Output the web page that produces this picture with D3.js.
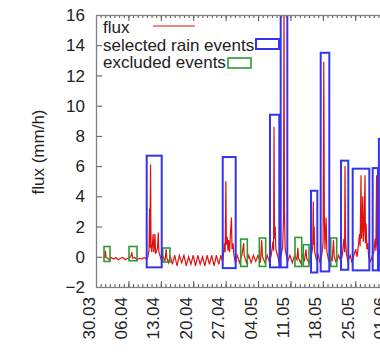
<!DOCTYPE html>
<html>
<head>
<meta charset="utf-8">
<script src="https://cdn.jsdelivr.net/npm/d3@7"></script>
<style>
  body { margin: 0; background: #fff; }
  text { font-family: "Liberation Sans", Arial, sans-serif; font-size: 17px; fill: #222; }
</style>
</head>
<body>
<svg id="chart" width="380" height="352"></svg>
<script>
// days counted from 30.03
var startDay = Date.UTC(2013, 2, 30);

// flux series: [day, mm/h]
var flux = [
  [1.6, -0.05], [1.9, 0.0], [2.05, 0.4], [2.15, -0.05], [2.5, -0.1], [2.9, -0.2], [3.3, -0.05],
  [3.8, -0.15], [4.3, -0.05], [4.8, -0.2], [5.3, -0.1], [5.8, -0.05], [6.3, -0.2], [6.8, -0.1],
  [7.3, -0.05], [7.6, 0.1], [7.75, 0.3], [7.9, -0.1], [8.4, -0.05], [8.9, -0.2], [9.4, -0.1],
  [9.9, -0.15], [10.4, -0.05], [10.9, -0.15], [11.2, 0.0], [11.45, 0.4], [11.58, 3.2], [11.66, 0.6],
  [11.78, 6.1], [11.88, 0.8], [12.05, 0.3], [12.2, 0.9], [12.35, 1.5], [12.48, 0.3], [12.62, 0.8],
  [12.74, 1.5], [12.86, 0.2], [13.1, 0.4], [13.3, 0.6], [13.45, 1.6], [13.58, 0.3], [13.8, 0.1],
  [14.1, -0.2], [14.5, 0.0], [14.9, -0.3], [15.15, 0.5], [15.3, -0.1], [15.7, -0.4], [16.0, 0.1],
  [16.5, -0.5], [17.0, 0.1], [17.5, -0.6], [18.0, 0.1], [18.5, -0.4], [19.0, 0.1], [19.5, -0.6],
  [20.0, 0.0], [20.5, -0.5], [21.0, 0.1], [21.5, -0.6], [22.0, 0.1], [22.5, -0.5], [23.0, 0.0],
  [23.5, -0.6], [24.0, 0.1], [24.5, -0.5], [25.0, 0.1], [25.5, -0.6], [26.0, 0.1], [26.5, -0.5],
  [27.0, 0.1], [27.3, -0.3], [27.55, 0.2], [27.75, 0.9], [27.9, 0.3], [28.05, 5.0], [28.15, 0.8],
  [28.35, 1.3], [28.5, 0.4], [28.65, 1.1], [28.85, 0.3], [29.05, 1.6], [29.25, 2.6], [29.38, 0.5],
  [29.6, 0.9], [29.8, 0.1], [30.1, -0.4], [30.5, 0.1], [31.0, -0.4], [31.5, 0.1], [31.9, 0.9],
  [32.0, 0.1], [32.5, -0.4], [33.0, 0.1], [33.5, -0.4], [34.0, 0.1], [34.5, -0.3], [35.0, 0.1],
  [35.5, -0.4], [35.8, 1.1], [35.95, 0.0], [36.5, -0.4], [37.0, 0.1], [37.5, -0.4], [37.9, 0.2],
  [38.2, 1.0], [38.35, 0.4], [38.45, 8.6], [38.55, 1.2], [38.7, 2.0], [38.85, 0.5], [39.2, 0.1],
  [39.5, -0.3], [39.9, 0.0], [40.3, 0.6], [40.5, 2.5], [40.6, 17.0], [40.7, 3.0], [40.85, 0.6],
  [41.1, 0.1], [41.4, -0.3], [41.9, 0.1], [42.4, -0.4], [42.9, 0.1], [43.4, -0.2], [43.6, 0.6],
  [43.75, -0.1], [44.2, -0.4], [44.6, 0.1], [45.0, -0.3], [45.35, 0.5], [45.5, -0.1], [46.0, -0.4],
  [46.5, 0.1], [46.8, 0.6], [46.93, 3.66], [47.02, 0.8], [47.12, 2.0], [47.25, 0.3], [47.6, -0.2],
  [48.0, 0.1], [48.4, -0.4], [48.8, 0.2], [49.05, 1.0], [49.2, 12.9], [49.32, 2.6], [49.45, 0.5],
  [49.7, 2.6], [49.85, 0.4], [50.2, -0.2], [50.6, 0.1], [51.0, -0.3], [51.3, 1.1], [51.45, 0.0],
  [51.9, -0.4], [52.4, 0.1], [52.9, -0.3], [53.2, 0.1], [53.55, 1.2], [53.7, 0.3], [53.78, 6.0],
  [53.9, 1.0], [54.1, 0.2], [54.4, -0.3], [54.9, 0.1], [55.3, -0.4], [55.7, 0.1], [56.1, 0.5],
  [56.4, 0.0], [56.7, 0.8], [56.9, 1.5], [57.05, 0.7], [57.24, 5.4], [57.35, 1.2], [57.5, 2.0],
  [57.62, 4.0], [57.75, 1.0], [57.9, 1.8], [58.1, 5.4], [58.2, 0.9], [58.35, 2.2], [58.5, 0.5],
  [58.7, 0.9], [58.9, 0.0], [59.3, -0.3], [59.7, 0.1], [60.0, 0.3], [60.3, 1.2], [60.45, 0.4],
  [60.6, 5.4], [60.72, 0.8], [61.0, 0.0], [61.4, 0.6], [61.7, 7.2], [61.85, 1.0], [62.3, 0.1]
];

// boxes: [start day, end day, top, bottom]
var selectedEvents = [
  [10.95, 14.19, 6.69, -0.7],
  [27.37, 30.17, 6.6, -0.75],
  [37.58, 39.59, 9.4, -0.7],
  [39.89, 41.32, 16.8, -0.7],
  [46.44, 47.8, 4.37, -1.04],
  [48.53, 50.39, 13.5, -0.97],
  [52.92, 54.49, 6.36, -0.86],
  [55.44, 59.03, 5.83, -0.9],
  [59.76, 60.9, 5.87, -0.9],
  [61.1, 63.0, 7.8, -0.9]
];

var excludedEvents = [
  [1.73, 3.02, 0.68, -0.31],
  [7.13, 8.86, 0.68, -0.26],
  [14.41, 15.98, 0.58, -0.35],
  [31.25, 32.68, 1.17, -0.64],
  [35.27, 36.65, 1.24, -0.64],
  [42.98, 44.43, 1.28, -0.64],
  [44.77, 46.0, 0.8, -0.64],
  [50.69, 51.99, 1.24, -0.64]
];

var xTickLabels = ["30.03", "06.04", "13.04", "20.04", "27.04", "04.05", "11.05", "18.05", "25.05", "01.06"];
var yTicks = [-2, 0, 2, 4, 6, 8, 10, 12, 14, 16];

var svg = d3.select("#chart");
var plotLeft = 96, plotTop = 15, plotBottom = 287, pxPerDay = 4.63, nDays = 70;

function toDate(day) { return new Date(startDay + day * 864e5); }

var x = d3.scaleUtc()
  .domain([toDate(0), toDate(nDays)])
  .range([plotLeft, plotLeft + nDays * pxPerDay]);
var y = d3.scaleLinear().domain([-2, 16]).range([plotBottom, plotTop]);

svg.append("clipPath").attr("id", "plotclip")
  .append("rect").attr("x", plotLeft).attr("y", plotTop)
  .attr("width", nDays * pxPerDay).attr("height", plotBottom - plotTop);

var plot = svg.append("g").attr("clip-path", "url(#plotclip)");

// flux line
var line = d3.line().x(d => x(toDate(d[0]))).y(d => y(d[1]));
plot.append("path").datum(flux)
  .attr("d", line)
  .attr("fill", "none")
  .attr("stroke", "#e01010")
  .attr("stroke-width", 1.2);

function drawBoxes(data, color, w) {
  plot.append("g").selectAll("rect").data(data).enter().append("rect")
    .attr("x", d => x(toDate(d[0])))
    .attr("y", d => y(d[2]))
    .attr("width", d => x(toDate(d[1])) - x(toDate(d[0])))
    .attr("height", d => y(d[3]) - y(d[2]))
    .attr("fill", "none")
    .attr("stroke", color)
    .attr("stroke-width", w);
}
drawBoxes(excludedEvents, "#2f9a2f", 1.6);
drawBoxes(selectedEvents, "#3434f0", 2);

// axes, gnuplot style ticks pointing inwards
var weekTicks = xTickLabels.map((t, i) => toDate(i * 7));
var dayTicks = d3.range(0, nDays + 1).map(toDate);

function styleAxis(g) {
  g.select(".domain").remove();
  g.selectAll("line").attr("stroke", "#555");
}

svg.append("g").attr("transform", `translate(0,${plotBottom})`)
  .call(d3.axisBottom(x).tickValues(dayTicks).tickSize(-3).tickFormat(""))
  .call(styleAxis);
svg.append("g").attr("transform", `translate(0,${plotTop})`)
  .call(d3.axisTop(x).tickValues(dayTicks).tickSize(-3).tickFormat(""))
  .call(styleAxis);
svg.append("g").attr("transform", `translate(0,${plotTop})`)
  .call(d3.axisTop(x).tickValues(weekTicks).tickSize(-6).tickFormat(""))
  .call(styleAxis);

var xAxis = svg.append("g").attr("transform", `translate(0,${plotBottom})`)
  .call(d3.axisBottom(x).tickValues(weekTicks).tickSize(-6).tickFormat((d, i) => xTickLabels[i]))
  .call(styleAxis);
xAxis.selectAll("text")
  .attr("transform", "rotate(-90)")
  .attr("x", -10).attr("y", -2).attr("dy", 0)
  .style("text-anchor", "end")
  .style("font-size", "17px");

svg.append("g").attr("transform", `translate(${plotLeft},0)`)
  .call(d3.axisLeft(y).tickValues(yTicks).tickSize(-6).tickPadding(11))
  .call(styleAxis)
  .selectAll("text").style("font-size", "17px").attr("dy", "0.33em");

// border
svg.append("rect")
  .attr("x", plotLeft + 0.5).attr("y", plotTop + 0.5)
  .attr("width", nDays * pxPerDay).attr("height", plotBottom - plotTop)
  .attr("fill", "none").attr("stroke", "#808080").attr("stroke-width", 1.3);

// y axis title
svg.append("text")
  .attr("transform", "translate(44,152) rotate(-90)")
  .attr("text-anchor", "middle")
  .text("flux (mm/h)");

// legend
var legend = svg.append("g");
legend.append("text").attr("x", 103).attr("y", 33).text("flux");
legend.append("line").attr("x1", 153).attr("x2", 195).attr("y1", 26).attr("y2", 26)
  .attr("stroke", "#e01010").attr("stroke-width", 1);
legend.append("text").attr("x", 103).attr("y", 50.5).text("selected rain events");
legend.append("rect").attr("x", 256).attr("y", 39).attr("width", 23).attr("height", 10)
  .attr("fill", "none").attr("stroke", "#3434f0").attr("stroke-width", 2);
legend.append("text").attr("x", 103).attr("y", 68).text("excluded events");
legend.append("rect").attr("x", 228).attr("y", 58).attr("width", 23).attr("height", 10)
  .attr("fill", "none").attr("stroke", "#2f9a2f").attr("stroke-width", 1.6);
</script>
</body>
</html>
